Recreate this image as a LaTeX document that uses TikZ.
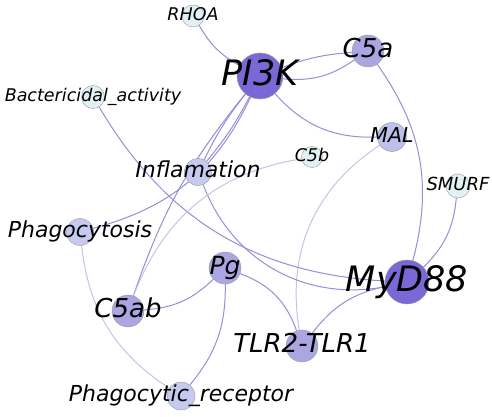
\documentclass[tikz,border=0pt]{standalone}
\usepackage{fontspec}
\setmainfont{DejaVu Sans}[ItalicFont={DejaVu Sans Oblique}]
\usetikzlibrary{backgrounds}

\definecolor{hubfill}{RGB}{123,104,214}
\definecolor{midfill}{RGB}{170,166,226}
\definecolor{palefill}{RGB}{198,202,238}
\definecolor{leaffill}{RGB}{226,242,244}
\definecolor{edgecol}{RGB}{150,142,214}
\definecolor{edgepale}{RGB}{198,196,230}

\tikzset{
  vtx/.style={circle, draw=black!40, line width=0.4pt, inner sep=0pt, minimum size=#1},
  lbl/.style={font=\itshape\fontsize{#1}{#1}\selectfont, inner sep=0pt,
    execute at begin node={\rule[-0.24em]{0pt}{1.01em}}},
  link/.style={draw=edgecol, line width=1pt},
  palelink/.style={draw=edgepale, line width=1pt},
}

\begin{document}
\begin{tikzpicture}[x=1pt, y=1pt]
\useasboundingbox (0,0) rectangle (492,-417);

		%Knoten
		\node[vtx=22pt, fill=leaffill, label={[lbl=17.5]center:RHOA}] (rhoa) at (193,-16) {};
		\node[vtx=46pt, fill=hubfill, label={[lbl=35]center:PI3K}] (pik) at (260,-76) {};
		\node[vtx=32pt, fill=midfill, label={[lbl=26]center:C5a}] (cfa) at (368,-51) {};
		\node[vtx=23pt, fill=leaffill, label={[lbl=17.5]center:Bactericidal\_activity}] (bact) at (93,-97) {};
		\node[vtx=29pt, fill=palefill!70!midfill, label={[lbl=20.5]center:MAL}] (mal) at (392,-137) {};
		\node[vtx=21pt, fill=leaffill, label={[lbl=17.5]center:C5b}] (cfb) at (312,-157) {};
		\node[vtx=24pt, fill=leaffill, label={[lbl=18]center:SMURF}] (smurf) at (458,-186) {};
		\node[vtx=27pt, fill=palefill, label={[lbl=22]center:Inflamation}] (infl) at (198,-172) {};
		\node[vtx=27pt, fill=palefill, label={[lbl=22]center:Phagocytosis}] (phago) at (80,-232) {};
		\node[vtx=32pt, fill=midfill, label={[lbl=25]center:Pg}] (pg) at (225,-268) {};
		\node[vtx=32pt, fill=midfill, label={[lbl=26]center:C5ab}] (cfab) at (128,-311) {};
		\node[vtx=44pt, fill=hubfill, label={[lbl=35]center:MyD88}] (myd) at (407,-282) {};
		\node[vtx=32pt, fill=midfill, label={[lbl=26]center:TLR2-TLR1}] (tlr) at (302,-346) {};
		\node[vtx=28pt, fill=palefill, label={[lbl=22]center:Phagocytic\_receptor}] (prec) at (181,-396) {};

		%Kanten
		\begin{scope}[on background layer]
		\fill[white] (0,0) rectangle (492,-417);
		\draw[link] (rhoa) to[bend right=15] (pik);
		\draw[link] (pik) to[bend left=8] (cfa);
		\draw[link] (pik) to[bend right=20] (cfa);
		\draw[link] (pik) to[bend right=25] (mal);
		\draw[link] (pik) to[bend left=6] (infl);
		\draw[link] (pik) to[bend right=6] (infl);
		\draw[link] (pik) to[bend right=10] (cfab);
		\draw[link] (phago) to[bend right=25] (pik);
		\draw[link] (cfa) to[bend left=25] (myd);
		\draw[link] (smurf) to[bend left=20] (myd);
		\draw[palelink] (mal) to[bend right=33] (tlr);
		\draw[link] (tlr) to[bend left=20] (myd);
		\draw[link] (pg) to[bend left=25] (tlr);
		\draw[link] (pg) to[bend left=20] (prec);
		\draw[link] (cfab) to[bend right=20] (pg);
		\draw[palelink] (phago) to[bend right=25] (prec);
		\draw[link] (bact) to[bend right=28] (myd);
		\draw[link] (infl) to[bend right=40] (myd);
		\draw[palelink] (cfb) to[bend right=30] (cfab);
		\end{scope}

\end{tikzpicture}
\end{document}
